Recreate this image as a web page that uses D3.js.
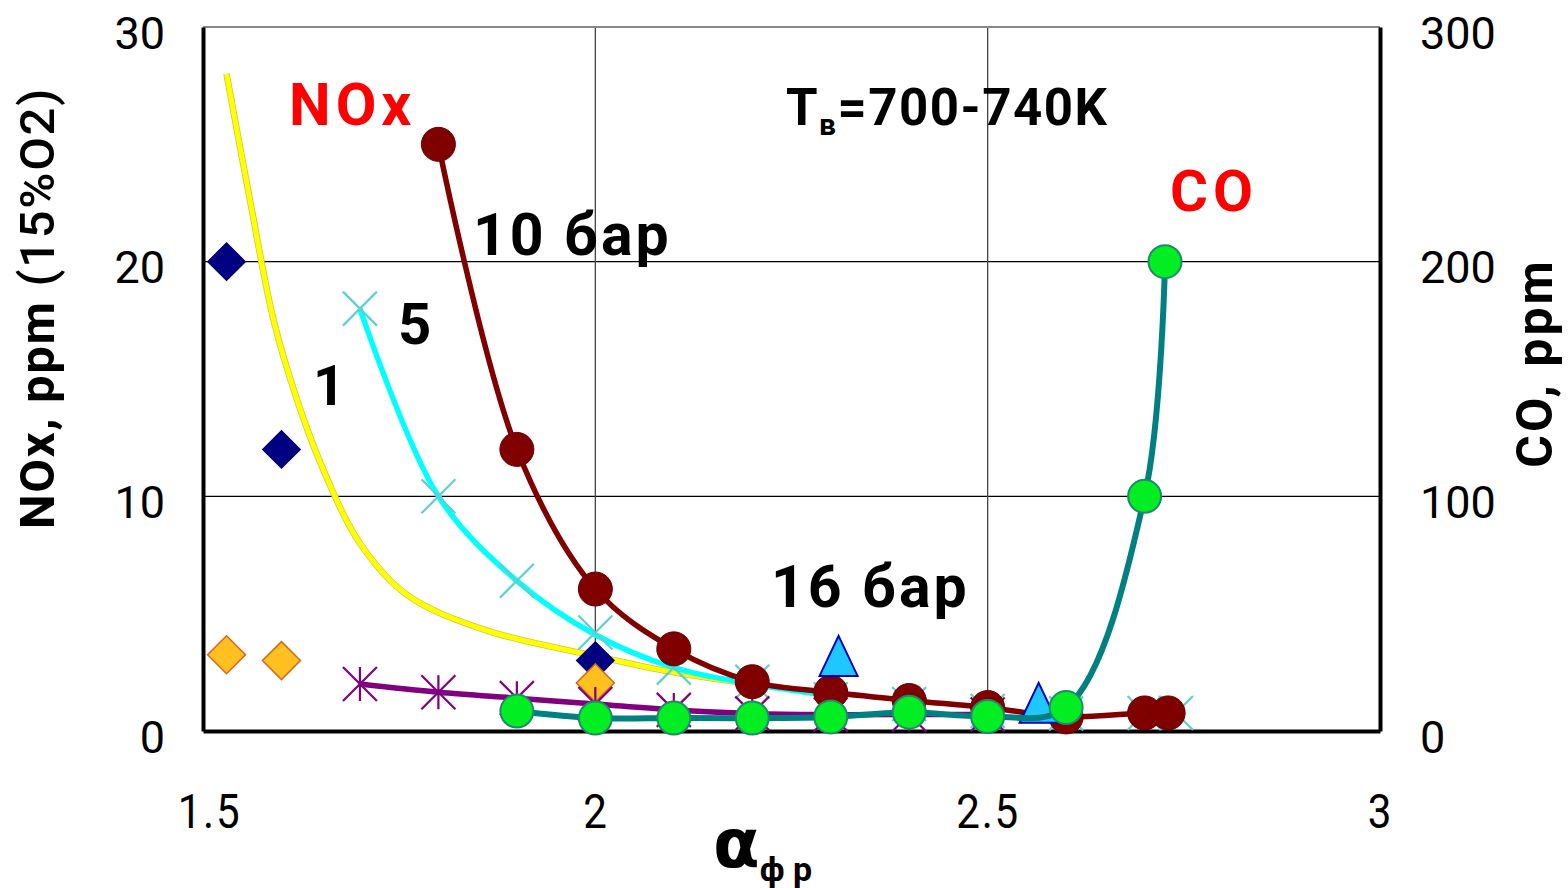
<!DOCTYPE html>
<html>
<head>
<meta charset="utf-8">
<script src="https://cdn.jsdelivr.net/npm/d3@7"></script>
<style>
  body { margin: 0; background: #fff; }
  text { font-family: Roboto, "DejaVu Sans", sans-serif; }
</style>
</head>
<body>
<svg id="chart" width="1568" height="888"></svg>
<script>
// ---- data ----
// NOx, ppm (left axis)
var bar1Line = [[1.53, 28], [1.56, 22.6], [1.59, 17.5], [1.62, 14.1], [1.65, 11.4], [1.70, 8.0],
                [1.76, 5.8], [1.86, 4.3], [2.0, 3.2], [2.1, 2.5], [2.2, 2.0]];
var bar5Line = [[1.7, 18], [1.8, 10], [1.9, 6.4], [2.0, 4.1], [2.1, 2.7], [2.2, 2.0], [2.3, 1.5]];
var bar5Points = [[1.7, 18], [1.8, 10], [1.9, 6.4], [2.0, 4.2], [2.1, 2.7], [2.2, 2.1], [2.3, 1.35],
                  [2.4, 1.15], [2.5, 0.85], [2.6, 0.75], [2.7, 0.77], [2.74, 0.77]];
var bar10 = [[1.8, 25], [1.9, 12], [2.0, 6.05], [2.1, 3.5], [2.2, 2.1], [2.3, 1.65], [2.4, 1.3],
             [2.5, 1.0], [2.6, 0.6], [2.7, 0.77], [2.73, 0.77]];
var bar16 = [[1.7, 2.0], [1.8, 1.65], [1.9, 1.4], [2.0, 1.15], [2.1, 0.9], [2.2, 0.75], [2.3, 0.7],
             [2.4, 0.7], [2.5, 0.7]];
var navyDiamonds = [[1.53, 20], [1.6, 12], [2.0, 3.0]];
var orangeDiamonds = [[1.53, 3.25], [1.6, 3.0], [2.0, 2.05]];
var triangles = [[2.31, 3.2], [2.565, 1.2]];
// CO, ppm (right axis)
var coData = [[1.9, 8.5], [2.0, 5.5], [2.1, 5.5], [2.2, 5.5], [2.3, 6], [2.4, 8], [2.5, 6.2],
              [2.6, 10], [2.7, 100], [2.726, 200]];

var xTicks = [1.5, 2, 2.5, 3];
var yTicks = [0, 10, 20, 30];
var coTicks = [0, 100, 200, 300];

// ---- layout ----
var svg = d3.select('#chart');
var plot = {l: 203, r: 1380, t: 27, b: 731};

var x = d3.scaleLinear().domain([1.5, 3]).range([plot.l, plot.r]);
var y = d3.scaleLinear().domain([0, 30]).range([plot.b, plot.t]);
var yCo = d3.scaleLinear().domain([0, 300]).range([plot.b, plot.t]);

// gridlines
svg.append('g').selectAll('line.hgrid')
    .data([10, 20])
  .enter().append('line')
    .attr('x1', plot.l).attr('x2', plot.r)
    .attr('y1', function(d) { return y(d); }).attr('y2', function(d) { return y(d); })
    .style('stroke', '#000').style('stroke-width', 1.3);

svg.append('g').selectAll('line.vgrid')
    .data([2, 2.5])
  .enter().append('line')
    .attr('x1', function(d) { return x(d); }).attr('x2', function(d) { return x(d); })
    .attr('y1', plot.t).attr('y2', plot.b)
    .style('stroke', '#444').style('stroke-width', 1.3);

// top border
svg.append('line')
    .attr('x1', plot.l).attr('x2', plot.r).attr('y1', plot.t).attr('y2', plot.t)
    .style('stroke', '#888').style('stroke-width', 2);

// axes
var leftAxis = svg.append('g')
    .attr('transform', 'translate(' + plot.l + ',0)')
    .call(d3.axisLeft(y).tickValues(yTicks).tickSize(0).tickPadding(38));
var rightAxis = svg.append('g')
    .attr('transform', 'translate(' + plot.r + ',0)')
    .call(d3.axisRight(yCo).tickValues(coTicks).tickSize(0).tickPadding(40));
var bottomAxis = svg.append('g')
    .attr('transform', 'translate(0,' + plot.b + ')')
    .call(d3.axisBottom(x).tickValues(xTicks).tickSize(0).tickFormat(d3.format('')));

[leftAxis, rightAxis, bottomAxis].forEach(function(a) {
  a.select('.domain').style('stroke', '#000').style('stroke-width', 4);
  a.selectAll('text').style('font-size', '45px').style('fill', '#000')
      .style('font-family', 'Roboto, sans-serif');
});
leftAxis.selectAll('text').attr('dy', '0.47em');
rightAxis.selectAll('text').attr('dy', '0.47em');
bottomAxis.selectAll('text')
    .attr('y', 0).attr('dy', 0)
    .style('font-size', '49px').style('letter-spacing', '2px')
    .attr('transform', function(d) { return 'translate(' + (d === 1.5 ? 6 : 0) + ',97) scale(0.86,1)'; });

// ---- series ----
var lineNox = d3.line()
    .x(function(d) { return x(d[0]); })
    .y(function(d) { return y(d[1]); })
    .curve(d3.curveCatmullRom.alpha(0.5));
var lineCo = d3.line()
    .x(function(d) { return x(d[0]); })
    .y(function(d) { return yCo(d[1]); })
    .curve(d3.curveCatmullRom.alpha(0.5));

// 1 bar (yellow)
svg.append('path').datum(bar1Line)
    .attr('d', lineNox)
    .style('fill', 'none').style('stroke', '#c8c840').style('stroke-width', 6.5);
svg.append('path').datum(bar1Line)
    .attr('d', lineNox)
    .style('fill', 'none').style('stroke', '#ffff00').style('stroke-width', 5);

// 5 bar (cyan)
svg.append('path').datum(bar5Line)
    .attr('d', lineNox)
    .style('fill', 'none').style('stroke', '#00ffff').style('stroke-width', 5.5);

svg.append('g').selectAll('path')
    .data(bar5Points)
  .enter().append('path')
    .attr('transform', function(d) { return 'translate(' + x(d[0]) + ',' + y(d[1]) + ')'; })
    .attr('d', function() {
      var s = 17;
      return 'M' + -s + ',' + -s + 'L' + s + ',' + s + 'M' + s + ',' + -s + 'L' + -s + ',' + s;
    })
    .style('stroke', '#5fcfcf').style('stroke-width', 2.2).style('fill', 'none');

// diamonds
var diamond = d3.symbol().type(d3.symbolSquare).size(720);
svg.append('g').selectAll('path')
    .data(navyDiamonds)
  .enter().append('path')
    .attr('transform', function(d) { return 'translate(' + x(d[0]) + ',' + y(d[1]) + ') rotate(45)'; })
    .attr('d', diamond)
    .style('fill', '#000080').style('stroke', '#000070').style('stroke-width', 1);

svg.append('g').selectAll('path')
    .data(orangeDiamonds)
  .enter().append('path')
    .attr('transform', function(d) { return 'translate(' + x(d[0]) + ',' + y(d[1]) + ') rotate(45)'; })
    .attr('d', diamond)
    .style('fill', '#ffc020').style('stroke', '#d2691e').style('stroke-width', 1.5);

// 16 bar (purple)
svg.append('path').datum(bar16)
    .attr('d', lineNox)
    .style('fill', 'none').style('stroke', '#800080').style('stroke-width', 5.5);

svg.append('g').selectAll('path')
    .data(bar16)
  .enter().append('path')
    .attr('transform', function(d) { return 'translate(' + x(d[0]) + ',' + y(d[1]) + ')'; })
    .attr('d', function() {
      var s = 17;
      return 'M' + -s + ',' + -s + 'L' + s + ',' + s + 'M' + s + ',' + -s + 'L' + -s + ',' + s +
             'M0,' + -s + 'L0,' + s;
    })
    .style('stroke', '#800080').style('stroke-width', 2.2).style('fill', 'none');

// 10 bar (dark red)
svg.append('path').datum(bar10)
    .attr('d', lineNox)
    .style('fill', 'none').style('stroke', '#800000').style('stroke-width', 5.5);

svg.append('g').selectAll('circle')
    .data(bar10)
  .enter().append('circle')
    .attr('cx', function(d) { return x(d[0]); })
    .attr('cy', function(d) { return y(d[1]); })
    .attr('r', 17)
    .style('fill', '#800000').style('stroke', '#6a0000').style('stroke-width', 1);

// triangles
svg.append('g').selectAll('path')
    .data(triangles)
  .enter().append('path')
    .attr('transform', function(d) { return 'translate(' + x(d[0]) + ',' + y(d[1]) + ')'; })
    .attr('d', function() {
      var w = 19, h = 20;
      return 'M0,' + -h + 'L' + w + ',' + h + 'L' + -w + ',' + h + 'Z';
    })
    .style('fill', '#1ec8ff').style('stroke', '#0000cc').style('stroke-width', 2);

// CO (teal line, green circles)
svg.append('path').datum(coData)
    .attr('d', lineCo)
    .style('fill', 'none').style('stroke', '#008080').style('stroke-width', 6);

svg.append('g').selectAll('circle')
    .data(coData)
  .enter().append('circle')
    .attr('cx', function(d) { return x(d[0]); })
    .attr('cy', function(d) { return yCo(d[1]); })
    .attr('r', 16.5)
    .style('fill', '#00ee22').style('stroke', '#1f8a6a').style('stroke-width', 2);

// ---- titles and annotations ----
var leftTitle = svg.append('text')
    .attr('transform', 'translate(54,308) rotate(-90)')
    .attr('text-anchor', 'middle')
    .style('font-size', '49px').style('font-weight', 'bold').style('letter-spacing', '1.7px');
leftTitle.append('tspan').text('NOx, ppm ');
leftTitle.append('tspan').style('font-weight', '500').text('(15%O2)');

svg.append('text')
    .attr('transform', 'translate(1552,363) rotate(-90)')
    .attr('text-anchor', 'middle')
    .style('font-size', '50px').style('font-weight', 'bold').style('letter-spacing', '3px')
    .text('CO, ppm');

var xTitle = svg.append('text')
    .attr('x', 713).attr('y', 867);
xTitle.append('tspan').style('font-size', '68px').style('font-weight', 'bold')
    .style('font-family', '"DejaVu Sans", sans-serif')
    .text('α');
xTitle.append('tspan').attr('dy', 14).style('font-size', '34px').style('font-weight', 'bold').text('ф р');

function label(txt, px, py, size, spacing, color) {
  return svg.append('text')
      .attr('x', px).attr('y', py)
      .style('font-size', size + 'px').style('font-weight', 'bold')
      .style('letter-spacing', spacing + 'px')
      .style('fill', color || '#000')
      .text(txt);
}

label('NOx', 289, 125, 59, 5, '#ff0000');
label('CO', 1170, 211, 58, 5, '#ff0000');
label('10 бар', 473, 255, 59, 3);
label('16 бар', 771, 607, 59, 3);
label('5', 398, 344, 58, 0);
label('1', 313, 405, 56, 0);

var tLabel = svg.append('text')
    .attr('x', 786).attr('y', 125)
    .style('font-size', '51px').style('font-weight', 'bold').style('letter-spacing', '1.5px');
tLabel.append('tspan').text('T');
tLabel.append('tspan').attr('dy', 10).style('font-size', '30px').text('в');
tLabel.append('tspan').attr('dy', -10).text('=700-740K');
</script>
</body>
</html>
